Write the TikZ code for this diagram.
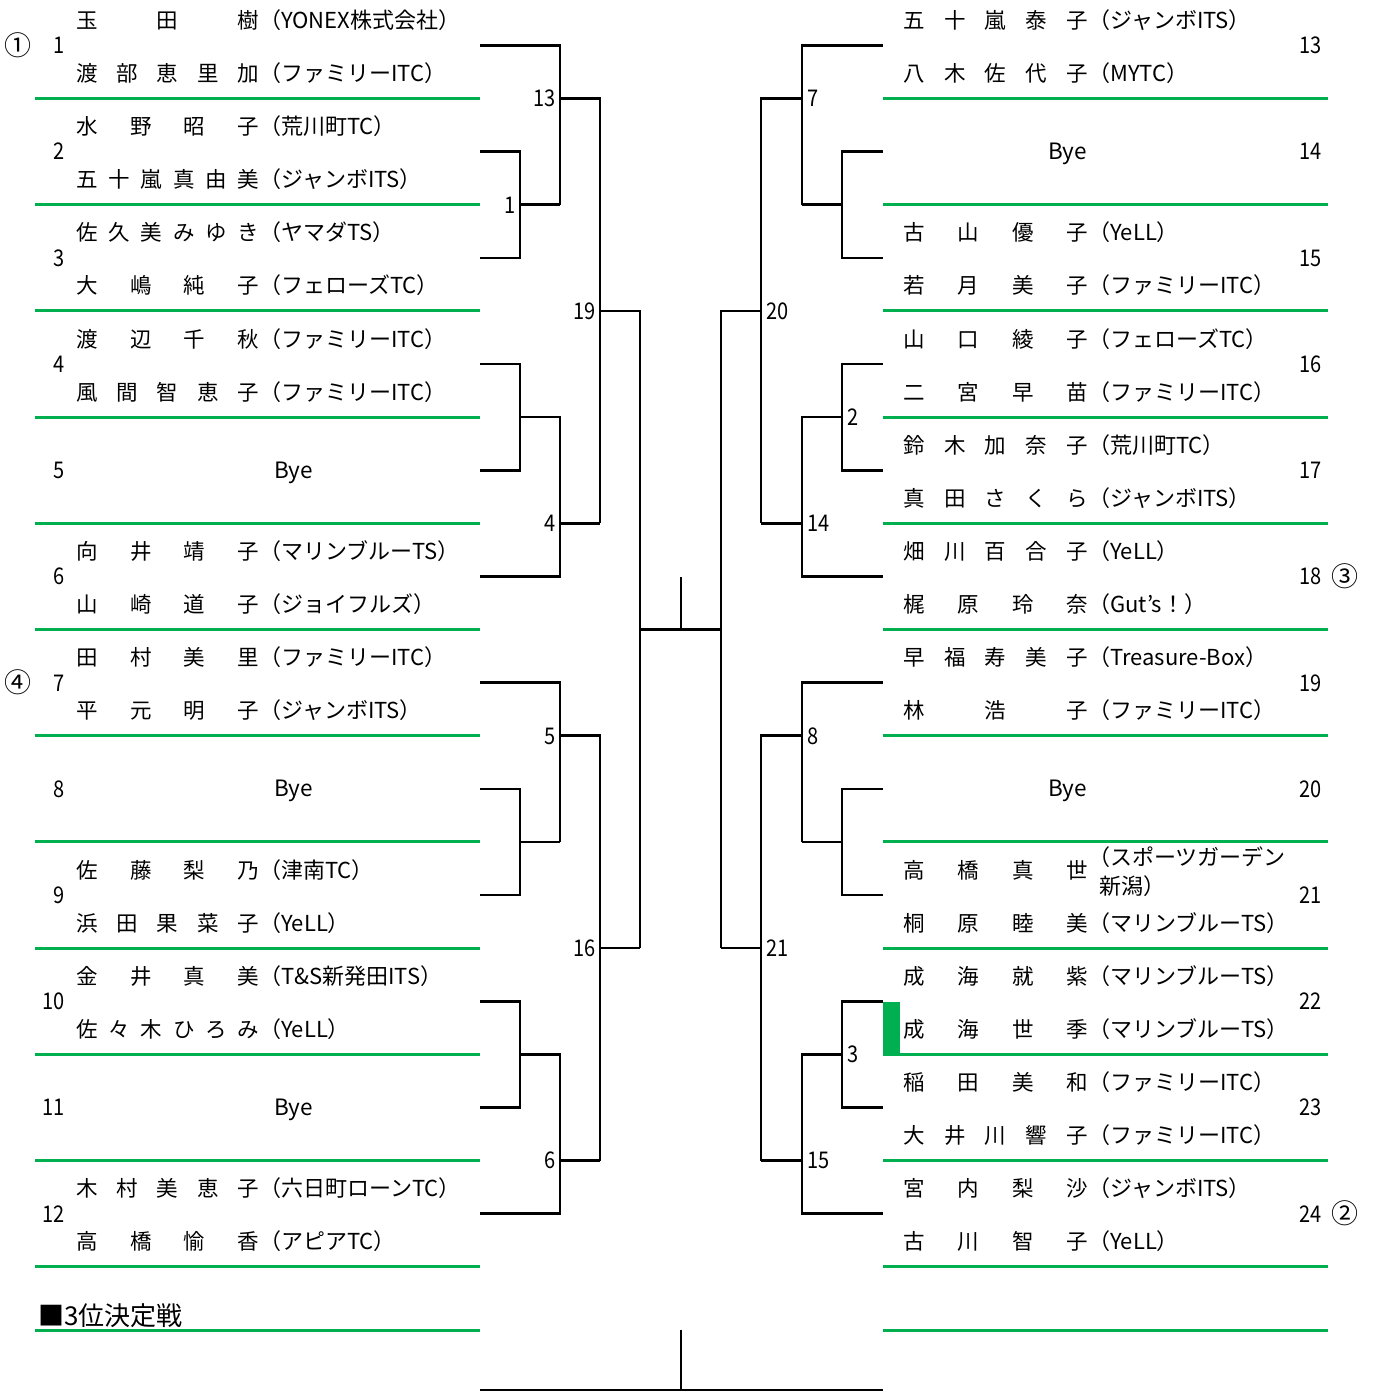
\documentclass[tikz,border=0pt]{standalone}
\usepackage{fontspec}
\setmainfont{Noto Sans CJK JP}
\definecolor{grn}{RGB}{0,176,80}
\def\spreadA#1{#1\spreadB}
\def\spreadB#1{\ifx#1\relax\else\hfill#1\expandafter\spreadB\fi}
\newcommand\spread[1]{\spreadA#1\relax}
\newcommand\Cy[1]{(45.4+106.2*(#1-1))}
\newcommand\Gy[1]{(98.5+106.2*(#1-1))}
\tikzset{
  br/.style={line width=2.6pt, line join=miter},
  gl/.style={draw=grn, line width=3pt},
  nm/.style={inner sep=0pt, font=\fontsize{21.5pt}{24pt}\selectfont},
  tm/.style={inner sep=0pt, font=\fontsize{22pt}{25pt}\selectfont},
  num/.style={inner sep=0pt, font=\fontsize{23pt}{26pt}\selectfont},
  byetxt/.style={inner sep=0pt, font=\fontsize{22.5pt}{26pt}\selectfont},
  seed/.style={inner sep=0pt, font=\fontsize{27pt}{30pt}\selectfont},
}
\newcommand\nb[1]{\scalebox{0.87}[1]{#1}}
% left entry: row, number, name1, team1, name2, team2
\newcommand\Lpair[6]{%
  \node[num, anchor=base east] (ln#1) at (65,{\Cy{#1}+8.4}) {\nb{#2}};
  \node[nm, anchor=base west] (la#1) at (76,{\Cy{#1}-17}) {\hbox to 183pt{\spread{#3}}};
  \node[tm, anchor=base west] (lta#1) at (259,{\Cy{#1}-17}) {#4};
  \node[nm, anchor=base west] (lb#1) at (76,{\Cy{#1}+36}) {\hbox to 183pt{\spread{#5}}};
  \node[tm, anchor=base west] (ltb#1) at (259,{\Cy{#1}+36}) {#6};
}
\newcommand\LBye[2]{%
  \node[num, anchor=base east] (ln#1) at (65,{\Cy{#1}+8.4}) {\nb{#2}};
  \node[byetxt, anchor=base west] (lbye#1) at (274,{\Cy{#1}+8}) {Bye};
}
\newcommand\Rpair[6]{%
  \node[num, anchor=base east] (rn#1) at (1322,{\Cy{#1}+8.4}) {\nb{#2}};
  \node[nm, anchor=base west] (ra#1) at (903,{\Cy{#1}-17}) {\hbox to 185pt{\spread{#3}}};
  \node[tm, anchor=base west] (rta#1) at (1088,{\Cy{#1}-17}) {#4};
  \node[nm, anchor=base west] (rb#1) at (903,{\Cy{#1}+36}) {\hbox to 185pt{\spread{#5}}};
  \node[tm, anchor=base west] (rtb#1) at (1088,{\Cy{#1}+36}) {#6};
}
\newcommand\RBye[2]{%
  \node[num, anchor=base east] (rn#1) at (1322,{\Cy{#1}+8.4}) {\nb{#2}};
  \node[byetxt, anchor=base west] (rbye#1) at (1048,{\Cy{#1}+8}) {Bye};
}
\begin{document}
\begin{tikzpicture}[x=1pt,y=-1pt]
\useasboundingbox (0,0) rectangle (1375,1391);
% green separators
\foreach \r in {1,...,12}{
  \draw[gl] (35,{\Gy{\r}}) -- (480,{\Gy{\r}});
  \draw[gl] (883,{\Gy{\r}}) -- (1328,{\Gy{\r}});
}
\draw[gl] (35,1330) -- (480,1330);
\draw[gl] (883,1330) -- (1328,1330);
\fill[grn] (883,1002) rectangle (900,1054);
% ---- left bracket, top half
\draw[br] (480,{\Cy{1}}) -- (560,{\Cy{1}}) -- (560,{\Gy{2}});
\draw[br] (480,{\Cy{2}}) -- (520,{\Cy{2}}) -- (520,{\Cy{3}}) -- (480,{\Cy{3}});
\draw[br] (520,{\Gy{2}}) -- (560,{\Gy{2}});
\draw[br] (560,{\Gy{1}}) -- (600,{\Gy{1}}) -- (600,{\Gy{5}});
\draw[br] (480,{\Cy{4}}) -- (520,{\Cy{4}}) -- (520,{\Cy{5}}) -- (480,{\Cy{5}});
\draw[br] (520,{\Gy{4}}) -- (560,{\Gy{4}}) -- (560,{\Cy{6}}) -- (480,{\Cy{6}});
\draw[br] (560,{\Gy{5}}) -- (600,{\Gy{5}});
\draw[br] (600,{\Gy{3}}) -- (640,{\Gy{3}}) -- (640,{\Gy{9}});
% ---- left bracket, bottom half
\draw[br] (480,{\Cy{7}}) -- (560,{\Cy{7}}) -- (560,{\Gy{8}});
\draw[br] (480,{\Cy{8}}) -- (520,{\Cy{8}}) -- (520,{\Cy{9}}) -- (480,{\Cy{9}});
\draw[br] (520,{\Gy{8}}) -- (560,{\Gy{8}});
\draw[br] (560,{\Gy{7}}) -- (600,{\Gy{7}}) -- (600,{\Gy{11}});
\draw[br] (480,{\Cy{10}}) -- (520,{\Cy{10}}) -- (520,{\Cy{11}}) -- (480,{\Cy{11}});
\draw[br] (520,{\Gy{10}}) -- (560,{\Gy{10}}) -- (560,{\Cy{12}}) -- (480,{\Cy{12}});
\draw[br] (560,{\Gy{11}}) -- (600,{\Gy{11}});
\draw[br] (600,{\Gy{9}}) -- (640,{\Gy{9}});
% ---- right bracket, top half
\draw[br] (883,{\Cy{1}}) -- (802,{\Cy{1}}) -- (802,{\Gy{2}});
\draw[br] (883,{\Cy{2}}) -- (842,{\Cy{2}}) -- (842,{\Cy{3}}) -- (883,{\Cy{3}});
\draw[br] (842,{\Gy{2}}) -- (802,{\Gy{2}});
\draw[br] (802,{\Gy{1}}) -- (761,{\Gy{1}}) -- (761,{\Gy{5}});
\draw[br] (883,{\Cy{4}}) -- (842,{\Cy{4}}) -- (842,{\Cy{5}}) -- (883,{\Cy{5}});
\draw[br] (842,{\Gy{4}}) -- (802,{\Gy{4}}) -- (802,{\Cy{6}}) -- (883,{\Cy{6}});
\draw[br] (802,{\Gy{5}}) -- (761,{\Gy{5}});
\draw[br] (761,{\Gy{3}}) -- (721,{\Gy{3}}) -- (721,{\Gy{9}});
% ---- right bracket, bottom half
\draw[br] (883,{\Cy{7}}) -- (802,{\Cy{7}}) -- (802,{\Gy{8}});
\draw[br] (883,{\Cy{8}}) -- (842,{\Cy{8}}) -- (842,{\Cy{9}}) -- (883,{\Cy{9}});
\draw[br] (842,{\Gy{8}}) -- (802,{\Gy{8}});
\draw[br] (802,{\Gy{7}}) -- (761,{\Gy{7}}) -- (761,{\Gy{11}});
\draw[br] (883,{\Cy{10}}) -- (842,{\Cy{10}}) -- (842,{\Cy{11}}) -- (883,{\Cy{11}});
\draw[br] (842,{\Gy{10}}) -- (802,{\Gy{10}}) -- (802,{\Cy{12}}) -- (883,{\Cy{12}});
\draw[br] (802,{\Gy{11}}) -- (761,{\Gy{11}});
\draw[br] (761,{\Gy{9}}) -- (721,{\Gy{9}});
% ---- final
\coordinate (finL) at (640,{\Gy{6}});
\coordinate (finR) at (721,{\Gy{6}});
\coordinate (finM) at (681,{\Gy{6}});
\coordinate (finT) at (681,577);
\draw[br] (finL) -- (finR);
\draw[br] (finT) -- (finM);
% ---- third place
\coordinate (tpT) at (681,1330);
\coordinate (tpM) at (681,1390);
\coordinate (tpL) at (480,1390);
\coordinate (tpR) at (883,1390);
\draw[br] (tpT) -- (tpM);
\draw[br] (tpL) -- (tpR);
\node[inner sep=0pt, anchor=base west, font=\fontsize{26pt}{30pt}\selectfont] (third) at (38,1325) {■3位決定戦};
% ---- match labels left
\node[num, anchor=base east] (m1) at (516,{\Gy{2}+8.4}) {\nb{1}};
\node[num, anchor=base east] (m13) at (556,{\Gy{1}+8.4}) {\nb{13}};
\node[num, anchor=base east] (m4) at (556,{\Gy{5}+8.4}) {\nb{4}};
\node[num, anchor=base east] (m19) at (596,{\Gy{3}+8.4}) {\nb{19}};
\node[num, anchor=base east] (m5) at (556,{\Gy{7}+8.4}) {\nb{5}};
\node[num, anchor=base east] (m6) at (556,{\Gy{11}+8.4}) {\nb{6}};
\node[num, anchor=base east] (m16) at (596,{\Gy{9}+8.4}) {\nb{16}};
% ---- match labels right
\node[num, anchor=base west] (m7) at (807,{\Gy{1}+8.4}) {\nb{7}};
\node[num, anchor=base west] (m2) at (847,{\Gy{4}+8.4}) {\nb{2}};
\node[num, anchor=base west] (m14) at (807,{\Gy{5}+8.4}) {\nb{14}};
\node[num, anchor=base west] (m20) at (766,{\Gy{3}+8.4}) {\nb{20}};
\node[num, anchor=base west] (m8) at (807,{\Gy{7}+8.4}) {\nb{8}};
\node[num, anchor=base west] (m3) at (847,{\Gy{10}+8.4}) {\nb{3}};
\node[num, anchor=base west] (m15) at (807,{\Gy{11}+8.4}) {\nb{15}};
\node[num, anchor=base west] (m21) at (766,{\Gy{9}+8.4}) {\nb{21}};
% ---- seeds
\node[seed, anchor=base] (s1) at (18,{\Cy{1}+10}) {①};
\node[seed, anchor=base] (s4) at (18,{\Cy{7}+10}) {④};
\node[seed, anchor=base] (s3) at (1345,{\Cy{6}+10}) {③};
\node[seed, anchor=base] (s2) at (1345,{\Cy{12}+10}) {②};
% ---- left entries
\Lpair{1}{1}{玉田樹}{（YONEX株式会社）}{渡部恵里加}{（ファミリーITC）}
\Lpair{2}{2}{水野昭子}{（荒川町TC）}{五十嵐真由美}{（ジャンボITS）}
\Lpair{3}{3}{佐久美みゆき}{（ヤマダTS）}{大嶋純子}{（フェローズTC）}
\Lpair{4}{4}{渡辺千秋}{（ファミリーITC）}{風間智恵子}{（ファミリーITC）}
\LBye{5}{5}
\Lpair{6}{6}{向井靖子}{（マリンブルーTS）}{山崎道子}{（ジョイフルズ）}
\Lpair{7}{7}{田村美里}{（ファミリーITC）}{平元明子}{（ジャンボITS）}
\LBye{8}{8}
\Lpair{9}{9}{佐藤梨乃}{（津南TC）}{浜田果菜子}{（YeLL）}
\Lpair{10}{10}{金井真美}{（T\&S新発田ITS）}{佐々木ひろみ}{（YeLL）}
\LBye{11}{11}
\Lpair{12}{12}{木村美恵子}{（六日町ローンTC）}{高橋愉香}{（アピアTC）}
% ---- right entries
\Rpair{1}{13}{五十嵐泰子}{（ジャンボITS）}{八木佐代子}{（MYTC）}
\RBye{2}{14}
\Rpair{3}{15}{古山優子}{（YeLL）}{若月美子}{（ファミリーITC）}
\Rpair{4}{16}{山口綾子}{（フェローズTC）}{二宮早苗}{（ファミリーITC）}
\Rpair{5}{17}{鈴木加奈子}{（荒川町TC）}{真田さくら}{（ジャンボITS）}
\Rpair{6}{18}{畑川百合子}{（YeLL）}{梶原玲奈}{（Gut's！）}
\Rpair{7}{19}{早福寿美子}{（Treasure-Box）}{林浩子}{（ファミリーITC）}
\RBye{8}{20}
\node[num, anchor=base east] (rn9) at (1322,{\Cy{9}+8.4}) {\nb{21}};
\node[nm, anchor=base west] (ra9) at (903,{\Cy{9}-17}) {\hbox to 185pt{\spread{高橋真世}}};
\node[tm, anchor=base west] (rta9) at (1088,865) {（スポーツガーデン};
\node[tm, anchor=base west] (rta9b) at (1099,894) {新潟）};
\node[nm, anchor=base west] (rb9) at (903,{\Cy{9}+36}) {\hbox to 185pt{\spread{桐原睦美}}};
\node[tm, anchor=base west] (rtb9) at (1088,{\Cy{9}+36}) {（マリンブルーTS）};
\Rpair{10}{22}{成海就紫}{（マリンブルーTS）}{成海世季}{（マリンブルーTS）}
\Rpair{11}{23}{稲田美和}{（ファミリーITC）}{大井川響子}{（ファミリーITC）}
\Rpair{12}{24}{宮内梨沙}{（ジャンボITS）}{古川智子}{（YeLL）}
\end{tikzpicture}
\end{document}
